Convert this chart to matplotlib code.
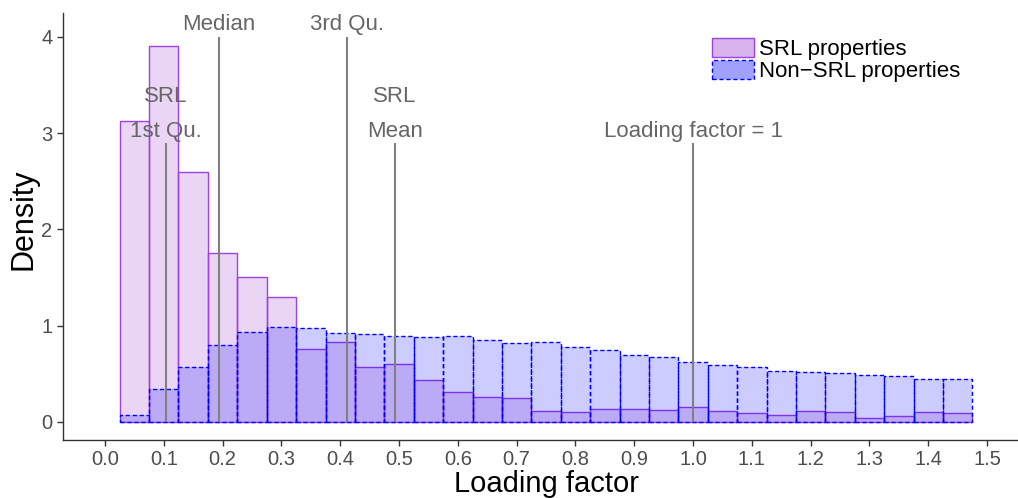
import numpy as np
import matplotlib
matplotlib.use("Agg")
import matplotlib.pyplot as plt
from matplotlib.patches import Patch

plt.rcParams['font.family'] = ['Liberation Sans', 'DejaVu Sans']

# histogram bins (centres), width 0.05
bin_centers = np.round(np.arange(0.05, 1.451, 0.05), 2)
bin_width = 0.05

srl_density = [3.13, 3.91, 2.60, 1.76, 1.51, 1.30, 0.76, 0.83, 0.57, 0.60,
               0.44, 0.31, 0.26, 0.25, 0.11, 0.10, 0.13, 0.13, 0.12, 0.16,
               0.11, 0.09, 0.07, 0.11, 0.10, 0.04, 0.06, 0.10, 0.09]
non_srl_density = [0.07, 0.34, 0.57, 0.80, 0.93, 0.99, 0.98, 0.92, 0.91, 0.89,
                   0.88, 0.89, 0.85, 0.82, 0.83, 0.78, 0.75, 0.70, 0.67, 0.62,
                   0.59, 0.57, 0.53, 0.52, 0.51, 0.49, 0.48, 0.45, 0.45]

# reference lines: (x, top, label lines)
ref_x = [0.104, 0.194, 0.412, 0.493, 1.0]
ref_top = [2.9, 4.0, 4.0, 2.9, 2.9]
ref_labels = [["SRL", "1st Qu."], ["Median"], ["3rd Qu."], ["SRL", "Mean"], ["Loading factor = 1"]]

x_ticks = np.round(np.arange(0, 1.51, 0.1), 1)
y_ticks = [0, 1, 2, 3, 4]

fig = plt.figure(figsize=(10.18, 4.98), dpi=100)
ax = fig.add_axes([0.0619, 0.1165, 0.9381, 0.8575])

ax.bar(bin_centers, srl_density, width=bin_width, color='darkorchid', alpha=0.2,
       edgecolor='none', zorder=2)
ax.bar(bin_centers, srl_density, width=bin_width, fill=False,
       edgecolor='#A040E0', linewidth=1.0, zorder=3)
ax.bar(bin_centers, non_srl_density, width=bin_width, color='blue', alpha=0.2,
       edgecolor='none', zorder=4)
ax.bar(bin_centers, non_srl_density, width=bin_width, fill=False,
       edgecolor='blue', linewidth=1.0, linestyle=(0, (3, 2)), zorder=5)

text_gray = '#666666'
for x, top, lab in zip(ref_x, ref_top, ref_labels):
    ax.vlines(x, 0, top, color='#808080', linewidth=1.5, zorder=6)
    if len(lab) == 2:
        ax.text(x, 3.38, lab[0], ha='center', va='center', fontsize=16, color=text_gray, zorder=7)
        ax.text(x, 3.02, lab[1], ha='center', va='center', fontsize=16, color=text_gray, zorder=7)
    elif top > 3.5:
        ax.text(x, 4.13, lab[0], ha='center', va='center', fontsize=16, color=text_gray, zorder=7)
    else:
        ax.text(x, 3.02, lab[0], ha='center', va='center', fontsize=16, color=text_gray, zorder=7)

ax.set_xlim(-0.0714, 1.5527)
ax.set_ylim(-0.187, 4.249)
ax.set_xticks(x_ticks)
ax.set_xticklabels([f"{v:.1f}" for v in x_ticks])
ax.set_yticks(y_ticks)
ax.tick_params(axis='both', labelsize=14.5, labelcolor='#4D4D4D', color='#333333',
               length=4, width=1)
for s in ['top', 'right']:
    ax.spines[s].set_visible(False)
for s in ['left', 'bottom']:
    ax.spines[s].set_color('#333333')
    ax.spines[s].set_linewidth(1)

ax.set_xlabel("Loading factor", fontsize=21)
ax.set_ylabel("Density", fontsize=22)
ax.xaxis.set_label_coords(0.5058, -0.071)
ax.yaxis.set_label_coords(-0.026, 0.516)

handles = [Patch(facecolor='#D8B4EE', edgecolor='#A040E0', linewidth=1.0),
           Patch(facecolor='#A0A0FF', edgecolor='blue', linewidth=1.0, linestyle=(0, (3, 2)))]
fig.legend(handles, ["SRL properties", "Non\u2212SRL properties"], loc='upper left',
           bbox_to_anchor=(712 / 1018, 1 - 38 / 498), frameon=False, fontsize=16,
           labelspacing=0.0, handlelength=1.9, handleheight=0.95, handletextpad=0.2,
           borderpad=0, borderaxespad=0)

fig.savefig("out.png", dpi=100)
